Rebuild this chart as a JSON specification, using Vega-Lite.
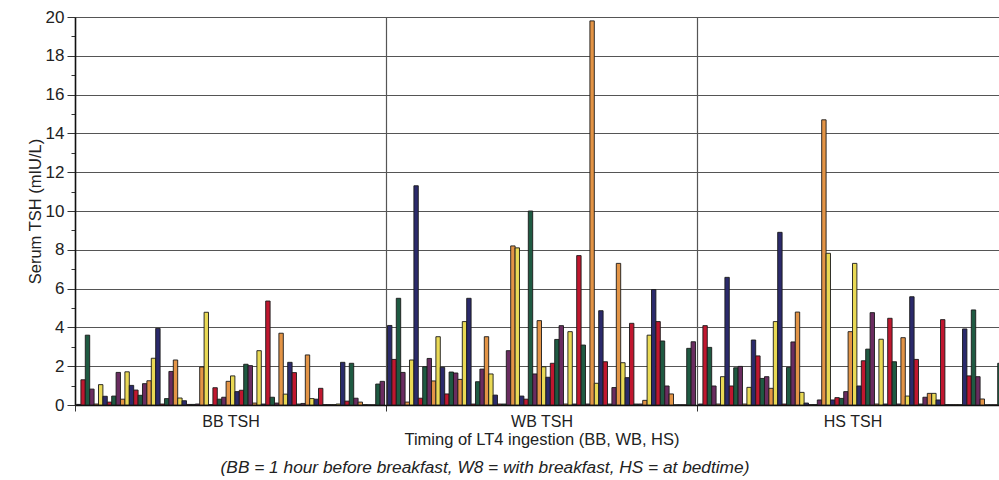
{
  "$schema": "https://vega.github.io/schema/vega-lite/v6.json",
  "width": 924,
  "height": 388,
  "autosize": {"type": "none"},
  "padding": {"left": 75, "top": 17, "right": 0, "bottom": 75},
  "background": "white",
  "config": {"font": "Liberation Sans", "view": {"stroke": null}},
  "title": {"text": "(BB = 1 hour before breakfast, W8 = with breakfast, HS = at bedtime)", "orient": "bottom", "fontStyle": "italic", "fontWeight": "normal", "fontSize": 17.3, "color": "#222", "offset": 11, "anchor": "middle", "dx": -52},
  "data": {"values": [
    {"g":"BB TSH","i":0,"v":0.03},{"g":"BB TSH","i":1,"v":1.3},{"g":"BB TSH","i":2,"v":3.6},{"g":"BB TSH","i":3,"v":0.82},{"g":"BB TSH","i":4,"v":0.05},{"g":"BB TSH","i":5,"v":1.05},{"g":"BB TSH","i":6,"v":0.45},{"g":"BB TSH","i":7,"v":0.15},{"g":"BB TSH","i":8,"v":0.46},{"g":"BB TSH","i":9,"v":1.68},
    {"g":"BB TSH","i":10,"v":0.3},{"g":"BB TSH","i":11,"v":1.71},{"g":"BB TSH","i":12,"v":1.01},{"g":"BB TSH","i":13,"v":0.77},{"g":"BB TSH","i":14,"v":0.5},{"g":"BB TSH","i":15,"v":1.1},{"g":"BB TSH","i":16,"v":1.25},{"g":"BB TSH","i":17,"v":2.41},{"g":"BB TSH","i":18,"v":3.95},{"g":"BB TSH","i":19,"v":0.05},
    {"g":"BB TSH","i":20,"v":0.33},{"g":"BB TSH","i":21,"v":1.73},{"g":"BB TSH","i":22,"v":2.32},{"g":"BB TSH","i":23,"v":0.36},{"g":"BB TSH","i":24,"v":0.22},{"g":"BB TSH","i":25,"v":0.03},{"g":"BB TSH","i":26,"v":0.03},{"g":"BB TSH","i":27,"v":0.05},{"g":"BB TSH","i":28,"v":1.96},{"g":"BB TSH","i":29,"v":4.78},
    {"g":"BB TSH","i":30,"v":0.02},{"g":"BB TSH","i":31,"v":0.89},{"g":"BB TSH","i":32,"v":0.3},{"g":"BB TSH","i":33,"v":0.4},{"g":"BB TSH","i":34,"v":1.22},{"g":"BB TSH","i":35,"v":1.5},{"g":"BB TSH","i":36,"v":0.69},{"g":"BB TSH","i":37,"v":0.76},{"g":"BB TSH","i":38,"v":2.1},{"g":"BB TSH","i":39,"v":2.03},
    {"g":"BB TSH","i":40,"v":0.1},{"g":"BB TSH","i":41,"v":2.8},{"g":"BB TSH","i":42,"v":0.05},{"g":"BB TSH","i":43,"v":5.36},{"g":"BB TSH","i":44,"v":0.4},{"g":"BB TSH","i":45,"v":0.1},{"g":"BB TSH","i":46,"v":3.7},{"g":"BB TSH","i":47,"v":0.56},{"g":"BB TSH","i":48,"v":2.2},{"g":"BB TSH","i":49,"v":1.67},
    {"g":"BB TSH","i":50,"v":0.05},{"g":"BB TSH","i":51,"v":0.08},{"g":"BB TSH","i":52,"v":2.58},{"g":"BB TSH","i":53,"v":0.33},{"g":"BB TSH","i":54,"v":0.3},{"g":"BB TSH","i":55,"v":0.86},{"g":"BB TSH","i":56,"v":0.02},{"g":"BB TSH","i":57,"v":0.02},{"g":"BB TSH","i":58,"v":0.02},{"g":"BB TSH","i":59,"v":0.05},
    {"g":"BB TSH","i":60,"v":2.2},{"g":"BB TSH","i":61,"v":0.2},{"g":"BB TSH","i":62,"v":2.15},{"g":"BB TSH","i":63,"v":0.35},{"g":"BB TSH","i":64,"v":0.15},{"g":"BB TSH","i":65,"v":0.02},{"g":"BB TSH","i":66,"v":0.01},{"g":"BB TSH","i":67,"v":0.01},{"g":"BB TSH","i":68,"v":1.08},{"g":"BB TSH","i":69,"v":1.22},
    {"g":"WB TSH","i":0,"v":4.1},{"g":"WB TSH","i":1,"v":2.35},{"g":"WB TSH","i":2,"v":5.5},{"g":"WB TSH","i":3,"v":1.68},{"g":"WB TSH","i":4,"v":0.15},{"g":"WB TSH","i":5,"v":2.32},{"g":"WB TSH","i":6,"v":11.3},{"g":"WB TSH","i":7,"v":0.35},{"g":"WB TSH","i":8,"v":1.97},{"g":"WB TSH","i":9,"v":2.4},
    {"g":"WB TSH","i":10,"v":1.24},{"g":"WB TSH","i":11,"v":3.52},{"g":"WB TSH","i":12,"v":1.94},{"g":"WB TSH","i":13,"v":0.57},{"g":"WB TSH","i":14,"v":1.7},{"g":"WB TSH","i":15,"v":1.65},{"g":"WB TSH","i":16,"v":1.32},{"g":"WB TSH","i":17,"v":4.3},{"g":"WB TSH","i":18,"v":5.5},{"g":"WB TSH","i":19,"v":0.05},
    {"g":"WB TSH","i":20,"v":1.2},{"g":"WB TSH","i":21,"v":1.85},{"g":"WB TSH","i":22,"v":3.52},{"g":"WB TSH","i":23,"v":1.6},{"g":"WB TSH","i":24,"v":0.51},{"g":"WB TSH","i":25,"v":0.05},{"g":"WB TSH","i":26,"v":0.05},{"g":"WB TSH","i":27,"v":2.8},{"g":"WB TSH","i":28,"v":8.2},{"g":"WB TSH","i":29,"v":8.1},
    {"g":"WB TSH","i":30,"v":0.46},{"g":"WB TSH","i":31,"v":0.3},{"g":"WB TSH","i":32,"v":10.0},{"g":"WB TSH","i":33,"v":1.6},{"g":"WB TSH","i":34,"v":4.35},{"g":"WB TSH","i":35,"v":1.97},{"g":"WB TSH","i":36,"v":1.43},{"g":"WB TSH","i":37,"v":2.15},{"g":"WB TSH","i":38,"v":3.38},{"g":"WB TSH","i":39,"v":4.09},
    {"g":"WB TSH","i":40,"v":0.05},{"g":"WB TSH","i":41,"v":3.78},{"g":"WB TSH","i":42,"v":0.05},{"g":"WB TSH","i":43,"v":7.7},{"g":"WB TSH","i":44,"v":3.09},{"g":"WB TSH","i":45,"v":0.05},{"g":"WB TSH","i":46,"v":19.8},{"g":"WB TSH","i":47,"v":1.12},{"g":"WB TSH","i":48,"v":4.86},{"g":"WB TSH","i":49,"v":2.23},
    {"g":"WB TSH","i":50,"v":0.05},{"g":"WB TSH","i":51,"v":0.9},{"g":"WB TSH","i":52,"v":7.3},{"g":"WB TSH","i":53,"v":2.18},{"g":"WB TSH","i":54,"v":1.41},{"g":"WB TSH","i":55,"v":4.21},{"g":"WB TSH","i":56,"v":0.05},{"g":"WB TSH","i":57,"v":0.05},{"g":"WB TSH","i":58,"v":0.24},{"g":"WB TSH","i":59,"v":3.6},
    {"g":"WB TSH","i":60,"v":5.95},{"g":"WB TSH","i":61,"v":4.3},{"g":"WB TSH","i":62,"v":3.3},{"g":"WB TSH","i":63,"v":0.98},{"g":"WB TSH","i":64,"v":0.57},{"g":"WB TSH","i":65,"v":0.01},{"g":"WB TSH","i":66,"v":0.01},{"g":"WB TSH","i":67,"v":0.01},{"g":"WB TSH","i":68,"v":2.92},{"g":"WB TSH","i":69,"v":3.26},
    {"g":"HS TSH","i":0,"v":0.05},{"g":"HS TSH","i":1,"v":4.09},{"g":"HS TSH","i":2,"v":2.97},{"g":"HS TSH","i":3,"v":0.98},{"g":"HS TSH","i":4,"v":0.05},{"g":"HS TSH","i":5,"v":1.46},{"g":"HS TSH","i":6,"v":6.58},{"g":"HS TSH","i":7,"v":0.98},{"g":"HS TSH","i":8,"v":1.92},{"g":"HS TSH","i":9,"v":1.99},
    {"g":"HS TSH","i":10,"v":0.05},{"g":"HS TSH","i":11,"v":0.91},{"g":"HS TSH","i":12,"v":3.35},{"g":"HS TSH","i":13,"v":2.53},{"g":"HS TSH","i":14,"v":1.37},{"g":"HS TSH","i":15,"v":1.46},{"g":"HS TSH","i":16,"v":0.86},{"g":"HS TSH","i":17,"v":4.3},{"g":"HS TSH","i":18,"v":8.9},{"g":"HS TSH","i":19,"v":0.05},
    {"g":"HS TSH","i":20,"v":1.94},{"g":"HS TSH","i":21,"v":3.25},{"g":"HS TSH","i":22,"v":4.79},{"g":"HS TSH","i":23,"v":0.65},{"g":"HS TSH","i":24,"v":0.1},{"g":"HS TSH","i":25,"v":0.02},{"g":"HS TSH","i":26,"v":0.02},{"g":"HS TSH","i":27,"v":0.26},{"g":"HS TSH","i":28,"v":14.7},{"g":"HS TSH","i":29,"v":7.82},
    {"g":"HS TSH","i":30,"v":0.26},{"g":"HS TSH","i":31,"v":0.38},{"g":"HS TSH","i":32,"v":0.34},{"g":"HS TSH","i":33,"v":0.69},{"g":"HS TSH","i":34,"v":3.78},{"g":"HS TSH","i":35,"v":7.3},{"g":"HS TSH","i":36,"v":0.98},{"g":"HS TSH","i":37,"v":2.28},{"g":"HS TSH","i":38,"v":2.88},{"g":"HS TSH","i":39,"v":4.76},
    {"g":"HS TSH","i":40,"v":0.05},{"g":"HS TSH","i":41,"v":3.39},{"g":"HS TSH","i":42,"v":0.05},{"g":"HS TSH","i":43,"v":4.47},{"g":"HS TSH","i":44,"v":2.23},{"g":"HS TSH","i":45,"v":0.05},{"g":"HS TSH","i":46,"v":3.47},{"g":"HS TSH","i":47,"v":0.46},{"g":"HS TSH","i":48,"v":5.58},{"g":"HS TSH","i":49,"v":2.35},
    {"g":"HS TSH","i":50,"v":0.05},{"g":"HS TSH","i":51,"v":0.4},{"g":"HS TSH","i":52,"v":0.6},{"g":"HS TSH","i":53,"v":0.6},{"g":"HS TSH","i":54,"v":0.26},{"g":"HS TSH","i":55,"v":4.4},{"g":"HS TSH","i":56,"v":0.02},{"g":"HS TSH","i":57,"v":0.02},{"g":"HS TSH","i":58,"v":0.02},{"g":"HS TSH","i":59,"v":0.02},
    {"g":"HS TSH","i":60,"v":3.92},{"g":"HS TSH","i":61,"v":1.5},{"g":"HS TSH","i":62,"v":4.9},{"g":"HS TSH","i":63,"v":1.46},{"g":"HS TSH","i":64,"v":0.31},{"g":"HS TSH","i":65,"v":0.01},{"g":"HS TSH","i":66,"v":0.01},{"g":"HS TSH","i":67,"v":0.01},{"g":"HS TSH","i":68,"v":2.15},{"g":"HS TSH","i":69,"v":2.0}
  ]},
  "mark": {"type": "bar", "stroke": "#1a1a1a", "strokeWidth": 0.9, "clip": true},
  "encoding": {
    "x": {
      "field": "g", "type": "nominal", "sort": ["BB TSH", "WB TSH", "HS TSH"],
      "scale": {"paddingInner": 0, "paddingOuter": 0, "range": [0, 933]},
      "axis": {
        "title": "Timing of LT4 ingestion (BB, WB, HS)", "titleFontSize": 16.5, "titleFontWeight": "normal", "titleColor": "#222", "titlePadding": 2,
        "labelFontSize": 16, "labelColor": "#222", "labelAngle": 0, "labelPadding": 2,
        "tickBand": "extent", "tickSize": 6, "tickColor": "#333", "tickWidth": 1,
        "grid": true, "gridColor": "#555", "gridWidth": 1.2,
        "domainColor": "#111", "domainWidth": 1.5
      }
    },
    "xOffset": {"field": "i", "type": "nominal", "scale": {"paddingInner": 0, "paddingOuter": 0.34}},
    "y": {
      "field": "v", "type": "quantitative",
      "scale": {"domain": [0, 20], "nice": false},
      "axis": {
        "title": "Serum TSH (mIU/L)", "titleFontSize": 16.5, "titleFontWeight": "normal", "titleColor": "#222", "titlePadding": 2,
        "values": [0,0.5,1,1.5,2,2.5,3,3.5,4,4.5,5,5.5,6,6.5,7,7.5,8,8.5,9,9.5,10,10.5,11,11.5,12,12.5,13,13.5,14,14.5,15,15.5,16,16.5,17,17.5,18,18.5,19,19.5,20],
        "format": "d",
        "labelExpr": "datum.value % 2 === 0 ? datum.label : ''",
        "labelFontSize": 17, "labelColor": "#222", "labelPadding": 3,
        "tickSize": {"condition": {"test": "datum.value % 2 === 0", "value": 8}, "value": 4},
        "tickColor": "#333",
        "grid": true,
        "gridOpacity": {"condition": {"test": "datum.value % 2 === 0 && datum.value > 0", "value": 1}, "value": 0},
        "gridColor": "#555", "gridWidth": 1.2,
        "domainColor": "#111", "domainWidth": 1.5
      }
    },
    "color": {
      "field": "i", "type": "nominal",
      "scale": {"range": ["#2B2A6B", "#C0172F", "#1F5A42", "#6A2C60", "#E39446", "#E9D955"]},
      "legend": null
    }
  }
}
